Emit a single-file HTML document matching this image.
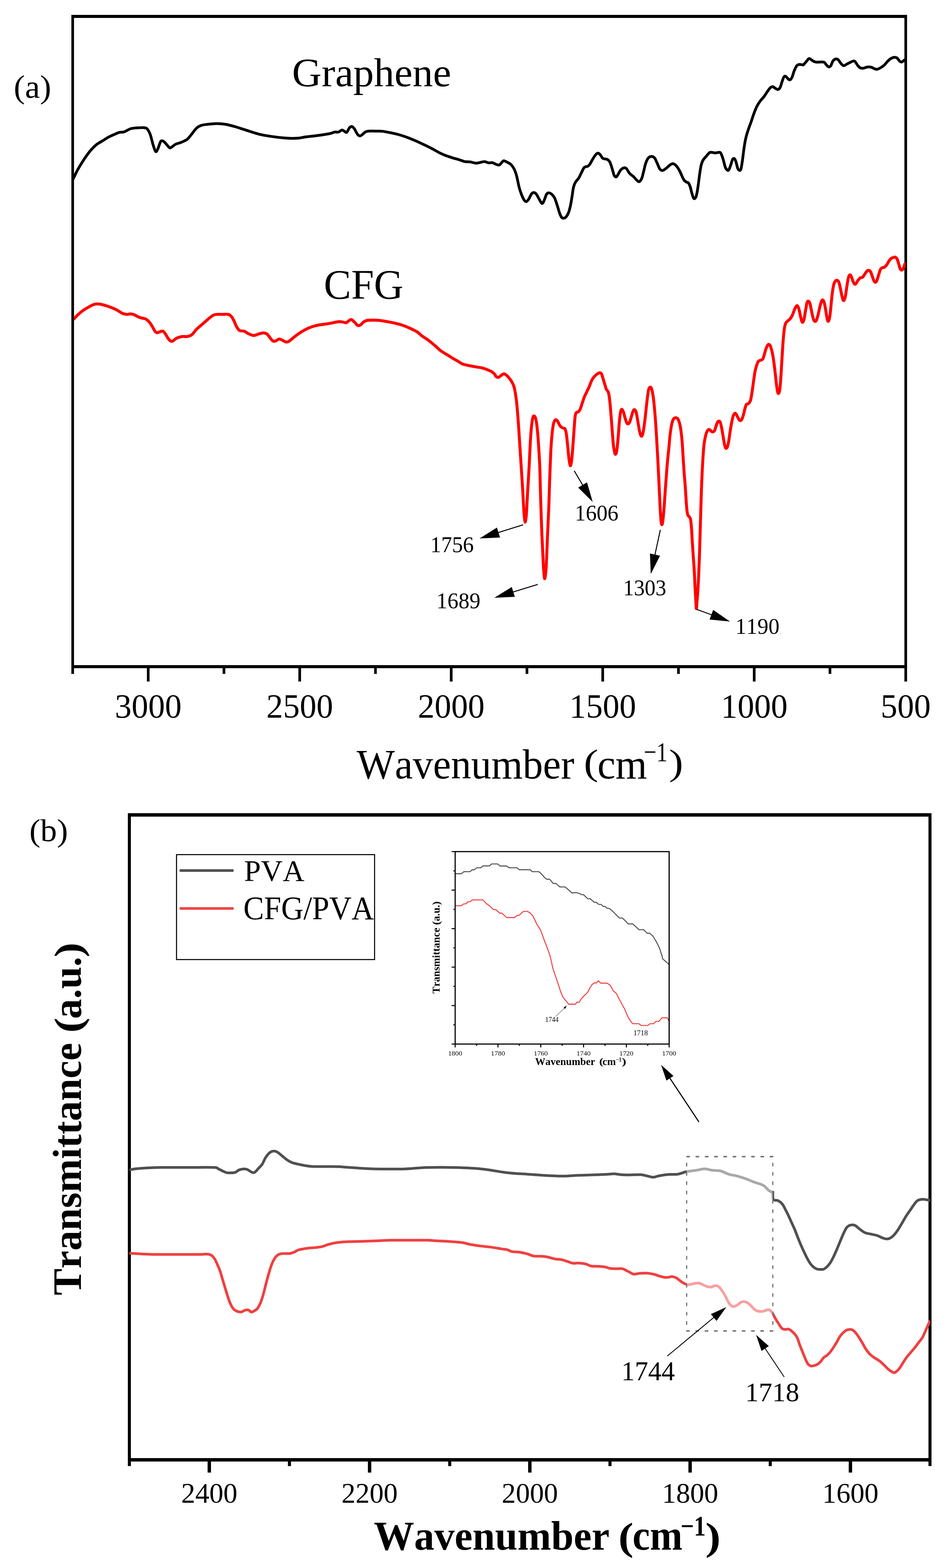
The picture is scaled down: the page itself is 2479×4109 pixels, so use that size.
<!DOCTYPE html>
<html lang="en">
<head>
<meta charset="utf-8">
<title>FTIR spectra</title>
<style>
html,body{margin:0;padding:0;background:#fff;}
body{width:2479px;height:4109px;overflow:hidden;}
svg{display:block;}
text{font-family:"Liberation Serif","DejaVu Serif",serif;fill:#000;font-kerning:none;white-space:pre;}
.b{font-weight:bold;}
</style>
</head>
<body>
<svg width="2479" height="4109" viewBox="0 0 2479 4109">
<rect width="2479" height="4109" fill="#fff"/>

<g id="chart-a">
<g fill="#000">
<rect x="187" y="39" width="7" height="1727"/>
<rect x="187" y="39" width="2190" height="8"/>
<rect x="2370" y="39" width="7" height="1747"/>
<rect x="187" y="1743" width="2190" height="8"/>
<rect x="384.9" y="1747" width="7" height="39"/>
<rect x="583.4" y="1747" width="7" height="19"/>
<rect x="781.9" y="1747" width="7" height="39"/>
<rect x="980.4" y="1747" width="7" height="19"/>
<rect x="1178.9" y="1747" width="7" height="39"/>
<rect x="1377.4" y="1747" width="7" height="19"/>
<rect x="1575.9" y="1747" width="7" height="39"/>
<rect x="1774.4" y="1747" width="7" height="19"/>
<rect x="1972.9" y="1747" width="7" height="39"/>
<rect x="2171.4" y="1747" width="7" height="19"/>
</g>
<clipPath id="clipA"><rect x="194" y="43" width="2179.6" height="1704"/></clipPath>
<g clip-path="url(#clipA)" fill="none" stroke-linejoin="round" stroke-linecap="round">
<path d="M186.0,478.0 C187.0,476.3 189.1,473.6 192.1,467.9 C195.1,462.2 199.5,452.1 204.2,443.7 C208.9,435.3 215.0,425.5 220.3,417.5 C225.7,409.4 231.1,401.6 236.5,395.3 C241.9,388.9 247.2,383.5 252.6,379.1 C258.0,374.7 263.4,372.4 268.8,369.0 C274.1,365.7 279.5,361.8 284.9,358.9 C290.3,356.1 296.3,353.7 301.0,351.7 C305.8,349.7 309.1,347.8 313.2,346.8 C317.2,345.8 320.6,347.2 325.3,345.6 C330.0,344.1 336.0,339.3 341.4,337.6 C346.8,335.8 351.5,335.6 357.5,335.1 C363.6,334.7 373.0,334.3 377.7,334.7 C382.4,335.2 383.1,334.9 385.8,338.0 C388.5,341.0 391.3,346.0 393.9,352.9 C396.4,359.8 398.8,371.7 401.1,379.1 C403.5,386.5 405.8,395.6 408.0,397.3 C410.1,399.0 411.9,393.6 414.0,389.2 C416.2,384.8 418.7,374.3 420.9,371.0 C423.0,367.8 424.7,368.6 426.9,369.4 C429.2,370.2 431.3,372.9 434.2,375.9 C437.1,378.9 441.6,385.6 444.3,387.2 C447.0,388.7 447.7,386.7 450.3,385.2 C453.0,383.6 456.4,379.9 460.4,377.9 C464.5,375.9 469.5,375.2 474.6,373.1 C479.6,370.9 486.0,368.7 490.7,365.0 C495.4,361.3 498.8,355.7 502.8,350.9 C506.8,346.0 510.9,339.6 514.9,335.9 C518.9,332.2 522.3,330.4 527.0,328.7 C531.7,327.0 536.4,326.7 543.1,325.9 C549.9,325.1 559.3,323.8 567.4,323.8 C575.4,323.8 583.5,324.5 591.6,325.9 C599.6,327.2 607.0,329.4 615.8,331.9 C624.5,334.4 633.9,337.6 644.0,340.8 C654.1,343.9 664.9,348.0 676.3,350.9 C687.7,353.7 699.8,355.9 712.6,357.7 C725.4,359.6 741.7,361.4 753.0,362.2 C764.2,362.9 772.3,362.7 780.2,362.2 C788.1,361.6 793.0,360.0 800.3,358.9 C807.7,357.9 815.8,357.3 824.6,356.1 C833.3,355.0 845.4,353.3 852.8,352.1 C860.2,350.9 864.9,349.9 868.9,348.9 C873.0,347.8 874.0,346.5 877.0,346.0 C880.0,345.6 883.9,346.9 887.1,346.0 C890.3,345.2 893.5,341.2 896.0,340.8 C898.5,340.4 899.9,342.6 902.0,343.6 C904.1,344.6 906.3,348.2 908.5,346.8 C910.7,345.5 913.1,338.1 915.3,335.5 C917.6,333.0 920.0,331.2 922.2,331.5 C924.4,331.8 926.2,334.2 928.7,337.6 C931.1,340.9 934.2,348.6 936.7,351.7 C939.2,354.8 941.3,356.1 943.6,356.1 C945.9,356.1 948.1,353.4 950.5,351.7 C952.8,349.9 955.2,347.0 957.7,345.6 C960.3,344.3 961.1,343.9 965.8,343.6 C970.5,343.3 979.9,343.5 986.0,343.6 C992.0,343.7 996.0,343.3 1002.1,344.0 C1008.2,344.7 1015.5,346.3 1022.3,347.6 C1029.0,349.0 1035.1,350.1 1042.4,352.1 C1049.8,354.1 1058.6,356.8 1066.7,359.8 C1074.7,362.7 1082.8,366.3 1090.9,369.8 C1098.9,373.4 1107.7,377.6 1115.1,381.1 C1122.5,384.7 1128.9,387.9 1135.3,391.2 C1141.6,394.6 1148.0,398.6 1153.4,401.3 C1158.8,404.0 1161.8,405.2 1167.5,407.4 C1173.2,409.5 1181.7,412.3 1187.7,414.2 C1193.8,416.1 1198.8,417.1 1203.8,418.7 C1208.9,420.2 1213.3,422.6 1218.0,423.5 C1222.7,424.4 1227.4,423.6 1232.1,424.3 C1236.8,425.0 1242.2,427.2 1246.2,427.5 C1250.2,427.9 1252.5,427.0 1256.3,426.3 C1260.1,425.7 1265.2,423.4 1269.2,423.5 C1273.2,423.6 1276.9,426.3 1280.5,426.7 C1284.1,427.2 1287.4,425.7 1290.6,426.3 C1293.8,427.0 1297.0,429.7 1300.0,430.7 C1303.0,431.7 1305.9,433.2 1308.4,432.4 C1310.9,431.5 1313.2,427.5 1315.1,425.7 C1317.1,423.8 1317.7,421.3 1320.2,421.3 C1322.7,421.3 1327.2,424.1 1330.3,425.7 C1333.3,427.2 1335.9,427.9 1338.7,430.7 C1341.5,433.5 1344.6,437.4 1347.1,442.5 C1349.6,447.5 1351.6,452.8 1353.8,461.0 C1356.0,469.1 1358.3,482.8 1360.5,491.2 C1362.8,499.6 1365.0,505.8 1367.2,511.4 C1369.5,517.0 1371.9,522.0 1374.0,524.8 C1376.0,527.7 1377.7,528.8 1379.7,528.2 C1381.7,527.7 1383.6,524.7 1385.7,521.5 C1387.9,518.2 1390.4,511.5 1392.5,508.7 C1394.5,505.9 1396.1,504.8 1398.2,504.7 C1400.3,504.6 1402.5,505.2 1404.9,508.0 C1407.3,510.8 1410.1,517.3 1412.6,521.5 C1415.2,525.7 1418.1,532.7 1420.4,533.3 C1422.6,533.8 1424.2,528.8 1426.1,524.8 C1428.0,520.9 1430.0,513.0 1431.8,509.7 C1433.7,506.5 1435.1,505.6 1437.2,505.3 C1439.3,505.1 1442.0,505.9 1444.6,508.0 C1447.2,510.2 1450.5,513.4 1453.0,518.1 C1455.5,522.9 1457.5,529.9 1459.7,536.6 C1462.0,543.3 1464.5,553.0 1466.4,558.5 C1468.4,563.9 1469.8,567.0 1471.5,569.2 C1473.2,571.5 1474.6,572.0 1476.5,571.9 C1478.5,571.8 1481.0,571.1 1483.3,568.6 C1485.5,566.0 1488.0,561.8 1490.0,556.8 C1491.9,551.7 1493.5,545.3 1495.0,538.3 C1496.5,531.3 1497.8,522.6 1499.1,514.8 C1500.3,506.9 1501.3,497.4 1502.8,491.2 C1504.2,485.1 1505.4,482.0 1507.8,477.8 C1510.2,473.6 1514.0,470.8 1516.9,466.0 C1519.8,461.2 1522.9,453.8 1525.3,449.2 C1527.7,444.6 1528.8,440.7 1531.3,438.4 C1533.9,436.2 1538.1,437.0 1540.4,435.7 C1542.8,434.5 1543.5,433.5 1545.5,430.7 C1547.4,427.9 1549.8,422.9 1552.2,418.9 C1554.5,415.0 1557.2,410.1 1559.6,407.2 C1562.0,404.2 1564.4,401.7 1566.6,401.4 C1568.9,401.2 1571.0,403.3 1573.0,405.5 C1575.1,407.7 1577.0,412.7 1579.1,414.6 C1581.2,416.4 1583.6,416.0 1585.8,416.6 C1588.1,417.2 1590.4,416.7 1592.5,418.3 C1594.7,419.8 1596.6,421.6 1598.6,425.7 C1600.5,429.7 1602.5,436.9 1604.3,442.5 C1606.1,448.1 1607.7,455.7 1609.3,459.3 C1611.0,462.8 1612.7,463.9 1614.4,463.7 C1616.1,463.4 1617.5,460.6 1619.4,457.6 C1621.4,454.6 1623.6,448.7 1626.2,445.8 C1628.7,442.9 1632.0,440.8 1634.6,440.1 C1637.1,439.4 1638.8,439.1 1641.3,441.5 C1643.8,443.8 1646.6,450.7 1649.7,454.2 C1652.8,457.8 1656.7,459.7 1659.8,462.6 C1662.9,465.6 1665.7,469.5 1668.2,471.7 C1670.7,474.0 1672.7,476.8 1674.9,476.1 C1677.2,475.4 1679.7,472.2 1681.6,467.7 C1683.6,463.2 1685.0,455.6 1686.7,449.2 C1688.4,442.7 1689.8,434.8 1691.7,429.0 C1693.7,423.2 1695.9,417.8 1698.5,414.6 C1701.0,411.4 1704.1,410.0 1706.9,409.9 C1709.7,409.7 1712.7,411.0 1715.3,413.9 C1717.8,416.8 1719.7,422.6 1722.0,427.3 C1724.2,432.1 1726.5,439.2 1728.7,442.5 C1731.0,445.7 1732.9,446.8 1735.4,446.8 C1738.0,446.8 1740.5,444.9 1743.8,442.5 C1747.2,440.1 1752.3,434.6 1755.6,432.4 C1759.0,430.1 1761.2,428.6 1764.0,429.0 C1766.8,429.4 1769.6,431.7 1772.4,434.7 C1775.2,437.8 1778.0,442.3 1780.8,447.5 C1783.6,452.7 1787.2,461.8 1789.2,466.0 C1791.3,470.2 1791.5,470.7 1793.0,472.6 C1794.6,474.4 1797.0,476.1 1798.8,477.3 C1800.5,478.4 1802.1,477.2 1803.8,479.3 C1805.5,481.4 1807.3,485.5 1808.8,490.0 C1810.4,494.6 1811.8,502.1 1813.2,506.9 C1814.6,511.6 1816.0,516.4 1817.2,518.6 C1818.5,520.9 1819.4,521.1 1820.6,520.3 C1821.8,519.5 1823.2,518.6 1824.6,513.6 C1826.0,508.5 1827.6,499.6 1829.0,490.0 C1830.5,480.5 1832.0,465.9 1833.4,456.4 C1834.8,446.9 1835.9,439.0 1837.4,432.9 C1838.9,426.7 1840.2,423.4 1842.5,419.4 C1844.7,415.5 1848.1,412.6 1850.9,409.3 C1853.7,406.1 1856.8,401.6 1859.3,399.9 C1861.8,398.3 1863.5,399.1 1866.0,399.3 C1868.5,399.4 1871.6,400.9 1874.4,400.9 C1877.2,400.9 1880.5,399.3 1882.8,399.3 C1885.2,399.3 1886.6,398.1 1888.5,400.9 C1890.5,403.7 1892.6,409.9 1894.6,416.1 C1896.6,422.2 1898.8,433.1 1900.6,437.9 C1902.4,442.8 1903.8,444.1 1905.3,445.3 C1906.9,446.6 1908.1,447.4 1909.7,445.3 C1911.3,443.3 1913.1,437.5 1914.8,432.9 C1916.4,428.3 1918.2,420.7 1919.8,417.8 C1921.4,414.8 1922.8,414.6 1924.2,415.4 C1925.6,416.2 1926.7,418.5 1928.2,422.8 C1929.7,427.1 1931.7,437.4 1933.3,441.3 C1934.8,445.2 1936.2,446.1 1937.6,446.3 C1939.0,446.6 1940.3,447.5 1941.7,443.0 C1943.0,438.5 1944.3,429.0 1945.7,419.4 C1947.1,409.9 1948.5,395.9 1950.1,385.8 C1951.6,375.7 1953.1,367.0 1955.1,358.9 C1957.1,350.8 1959.6,343.8 1961.8,337.1 C1964.1,330.3 1966.3,325.0 1968.6,318.6 C1970.8,312.1 1972.8,305.1 1975.3,298.4 C1977.8,291.7 1980.9,283.8 1983.7,278.2 C1986.5,272.6 1989.0,269.0 1992.1,264.8 C1995.2,260.6 1998.8,257.5 2002.2,253.0 C2005.5,248.5 2009.5,241.8 2012.3,237.9 C2015.1,233.9 2016.9,231.2 2019.0,229.5 C2021.1,227.7 2022.8,226.7 2025.1,227.1 C2027.3,227.5 2030.2,230.6 2032.4,231.8 C2034.7,233.0 2036.5,234.9 2038.5,234.5 C2040.5,234.1 2042.4,232.8 2044.2,229.5 C2046.0,226.1 2047.6,219.0 2049.3,214.3 C2050.9,209.7 2052.6,203.9 2054.3,201.5 C2056.0,199.2 2057.5,199.3 2059.3,200.2 C2061.2,201.1 2063.6,205.4 2065.4,206.9 C2067.2,208.4 2068.4,210.0 2070.1,209.3 C2071.8,208.6 2073.6,206.5 2075.5,202.6 C2077.3,198.6 2079.1,190.8 2081.2,185.7 C2083.3,180.7 2085.7,175.1 2087.9,172.3 C2090.2,169.5 2092.1,169.3 2094.7,168.9 C2097.2,168.5 2101.2,169.8 2103.1,169.9 C2104.9,170.0 2104.1,171.1 2105.9,169.5 C2107.7,167.8 2111.5,162.7 2114.0,160.1 C2116.4,157.4 2118.2,153.6 2120.7,153.3 C2123.2,153.1 2125.9,157.1 2128.8,158.7 C2131.7,160.3 2133.2,162.1 2138.2,162.7 C2143.1,163.4 2153.9,161.6 2158.4,162.7 C2162.8,163.9 2162.8,167.4 2165.1,169.5 C2167.3,171.6 2169.8,174.9 2171.8,175.4 C2173.8,175.8 2175.4,174.7 2177.2,172.2 C2179.0,169.6 2180.5,163.0 2182.6,160.1 C2184.6,157.1 2187.0,155.3 2189.3,154.7 C2191.5,154.0 2193.5,154.0 2196.0,156.0 C2198.5,158.0 2201.6,164.1 2204.1,166.8 C2206.5,169.5 2208.3,171.9 2210.8,172.2 C2213.3,172.4 2215.7,169.7 2218.9,168.1 C2222.0,166.6 2226.3,164.1 2229.6,162.7 C2233.0,161.4 2236.1,158.7 2239.1,160.1 C2242.0,161.4 2244.7,167.9 2247.1,170.8 C2249.6,173.7 2251.4,176.2 2253.8,177.5 C2256.3,178.9 2258.8,179.2 2261.9,178.9 C2265.1,178.6 2269.1,176.1 2272.7,175.7 C2276.3,175.2 2280.3,175.4 2283.4,176.2 C2286.6,177.0 2289.0,179.3 2291.5,180.2 C2294.0,181.1 2295.5,182.0 2298.2,181.6 C2300.9,181.1 2304.5,179.3 2307.6,177.5 C2310.8,175.7 2313.9,173.7 2317.1,170.8 C2320.2,167.9 2323.6,163.0 2326.5,160.1 C2329.4,157.1 2331.6,155.0 2334.5,153.3 C2337.5,151.7 2341.3,150.3 2344.0,150.1 C2346.7,149.9 2348.4,150.3 2350.7,152.0 C2352.9,153.6 2355.6,158.3 2357.4,160.1 C2359.2,161.8 2359.9,162.7 2361.4,162.7 C2363.0,162.7 2365.4,161.0 2366.8,160.1 C2368.3,159.2 2368.3,158.5 2370.1,157.4 C2371.8,156.2 2376.3,154.0 2377.6,153.3" stroke="#000" stroke-width="7.2"/>
<path d="M186.0,841.3 C187.3,840.3 191.1,838.0 194.1,835.2 C197.1,832.4 200.5,828.1 204.2,824.6 C207.9,821.2 211.6,817.9 216.3,814.6 C221.0,811.2 227.7,807.2 232.5,804.5 C237.2,801.8 240.9,799.8 244.6,798.4 C248.3,797.1 250.6,796.4 254.6,796.4 C258.7,796.4 263.7,797.3 268.8,798.4 C273.8,799.6 279.5,801.4 284.9,803.3 C290.3,805.1 296.3,807.5 301.0,809.7 C305.8,811.9 309.8,814.6 313.2,816.6 C316.5,818.5 318.0,820.2 321.2,821.4 C324.5,822.6 329.2,823.6 332.5,823.8 C335.9,824.0 338.2,822.5 341.4,822.6 C344.6,822.8 348.1,823.4 351.5,824.6 C354.8,825.9 358.2,828.4 361.6,829.9 C364.9,831.4 368.3,832.5 371.7,833.5 C375.0,834.5 378.4,834.1 381.7,835.9 C385.1,837.8 388.8,841.3 391.8,844.8 C394.9,848.3 397.6,853.1 399.9,856.9 C402.3,860.8 403.9,865.3 406.0,867.8 C408.0,870.3 409.7,871.7 412.0,871.9 C414.4,872.1 417.6,869.7 420.1,869.0 C422.6,868.4 424.7,866.8 426.9,867.8 C429.2,868.8 431.2,872.0 433.4,875.1 C435.6,878.2 438.1,883.4 440.3,886.4 C442.4,889.4 444.3,892.0 446.3,893.2 C448.3,894.5 449.7,895.2 452.4,894.0 C455.1,892.9 458.4,888.4 462.4,886.4 C466.5,884.4 471.9,882.7 476.6,881.9 C481.3,881.2 486.3,882.8 490.7,881.9 C495.1,881.1 498.8,880.3 502.8,877.1 C506.8,873.9 510.2,867.7 514.9,863.0 C519.6,858.3 525.7,853.6 531.0,848.9 C536.4,844.1 542.5,838.6 547.2,834.7 C551.9,830.9 555.6,827.7 559.3,825.9 C563.0,824.0 565.3,824.2 569.4,823.8 C573.4,823.5 578.8,823.8 583.5,823.8 C588.2,823.8 593.9,823.0 597.6,823.8 C601.3,824.6 603.2,826.1 605.7,828.7 C608.2,831.3 610.2,835.1 612.5,839.6 C614.9,844.1 617.3,851.3 619.8,855.7 C622.4,860.2 624.5,864.2 627.9,866.2 C631.2,868.2 636.3,866.5 640.0,867.8 C643.7,869.1 646.0,872.0 650.1,873.9 C654.1,875.8 659.5,878.9 664.2,879.1 C668.9,879.3 673.9,876.2 678.3,875.1 C682.7,873.9 686.7,872.1 690.4,872.3 C694.1,872.4 697.5,873.5 700.5,875.9 C703.5,878.2 706.0,883.4 708.6,886.4 C711.1,889.4 713.5,892.9 715.8,894.0 C718.2,895.2 720.0,894.2 722.7,893.2 C725.4,892.3 729.0,888.6 732.0,888.4 C735.0,888.2 738.0,890.8 740.9,892.0 C743.7,893.3 746.2,895.7 748.9,896.1 C751.6,896.5 752.5,897.3 757.0,894.5 C761.5,891.6 770.3,883.5 776.1,879.1 C782.0,874.7 786.9,871.5 792.3,868.2 C797.7,865.0 803.0,862.1 808.4,859.8 C813.8,857.4 819.2,855.6 824.6,854.1 C829.9,852.6 834.6,851.9 840.7,850.9 C846.8,849.9 854.8,849.1 860.9,848.0 C866.9,847.0 872.3,845.7 877.0,844.8 C881.7,843.9 885.4,842.9 889.1,842.8 C892.8,842.7 896.2,843.5 899.2,844.0 C902.2,844.5 904.6,846.4 907.3,845.6 C910.0,844.9 913.0,840.9 915.3,839.6 C917.7,838.2 919.0,836.7 921.4,837.6 C923.8,838.4 926.8,842.3 929.5,844.8 C932.2,847.4 935.0,851.7 937.5,852.9 C940.1,854.0 942.2,853.2 944.8,851.7 C947.4,850.1 950.0,845.6 952.9,843.6 C955.7,841.6 957.6,840.4 961.7,839.6 C965.9,838.8 972.5,838.8 977.9,838.8 C983.3,838.8 988.0,838.9 994.0,839.6 C1000.1,840.2 1007.5,841.6 1014.2,842.8 C1020.9,844.0 1028.3,845.5 1034.4,846.8 C1040.4,848.2 1045.1,849.2 1050.5,850.9 C1055.9,852.6 1061.3,854.7 1066.7,856.9 C1072.0,859.1 1078.1,861.8 1082.8,864.2 C1087.5,866.5 1090.9,868.2 1094.9,871.0 C1098.9,873.9 1102.3,877.6 1107.0,881.1 C1111.7,884.6 1117.8,888.0 1123.1,892.0 C1128.5,896.1 1133.9,900.8 1139.3,905.3 C1144.7,909.9 1150.0,915.4 1155.4,919.5 C1160.8,923.5 1166.2,926.2 1171.6,929.6 C1176.9,932.9 1183.0,936.8 1187.7,939.6 C1192.4,942.5 1195.8,944.1 1199.8,946.5 C1203.8,948.9 1207.9,952.0 1211.9,953.8 C1216.0,955.5 1218.6,955.8 1224.0,957.0 C1229.4,958.2 1237.8,959.9 1244.2,961.0 C1250.6,962.2 1257.0,962.6 1262.4,963.9 C1267.7,965.1 1272.1,967.0 1276.5,968.7 C1280.8,970.4 1285.2,971.9 1288.6,973.9 C1291.9,976.0 1294.7,979.0 1296.7,981.2 C1298.6,983.4 1298.3,985.7 1300.0,987.0 C1301.7,988.2 1304.5,989.2 1306.7,988.7 C1309.0,988.1 1311.2,985.1 1313.4,983.6 C1315.7,982.1 1317.9,979.7 1320.2,979.6 C1322.4,979.5 1324.4,980.9 1326.9,983.0 C1329.4,985.0 1332.8,988.8 1335.3,992.0 C1337.8,995.2 1340.1,998.5 1342.0,1002.1 C1344.0,1005.8 1345.6,1008.6 1347.1,1013.9 C1348.6,1019.2 1349.9,1026.2 1351.1,1034.1 C1352.3,1041.9 1353.4,1049.8 1354.5,1061.0 C1355.6,1072.2 1356.7,1086.2 1357.8,1101.3 C1359.0,1116.4 1359.9,1132.1 1361.2,1151.7 C1362.5,1171.4 1364.1,1196.6 1365.6,1219.0 C1367.0,1241.4 1368.8,1266.6 1369.9,1286.2 C1371.1,1305.9 1371.9,1324.6 1372.6,1336.7 C1373.4,1348.7 1373.9,1353.3 1374.5,1358.5 C1375.1,1363.8 1375.7,1368.3 1376.3,1368.3 C1376.9,1368.3 1377.6,1362.7 1378.2,1358.5 C1378.7,1354.4 1379.0,1354.3 1379.7,1343.4 C1380.4,1332.5 1381.2,1313.7 1382.4,1293.0 C1383.6,1272.2 1385.5,1242.5 1386.8,1219.0 C1388.0,1195.5 1389.0,1169.7 1390.1,1151.7 C1391.2,1133.8 1392.4,1121.2 1393.5,1111.4 C1394.6,1101.6 1395.8,1096.4 1396.8,1092.9 C1397.9,1089.4 1398.7,1089.7 1399.9,1090.2 C1401.0,1090.8 1402.4,1092.2 1403.6,1096.3 C1404.7,1100.4 1405.8,1105.5 1406.9,1114.8 C1408.0,1124.0 1409.1,1134.4 1410.3,1151.7 C1411.5,1169.1 1413.3,1196.6 1414.3,1219.0 C1415.3,1241.4 1415.6,1267.8 1416.2,1286.2 C1416.7,1304.7 1416.9,1311.9 1417.5,1330.0 C1418.1,1348.0 1418.9,1373.0 1419.8,1394.5 C1420.7,1416.0 1422.0,1442.9 1422.8,1459.1 C1423.6,1475.2 1423.7,1481.8 1424.5,1491.4 C1425.3,1500.9 1426.3,1516.6 1427.4,1516.6 C1428.5,1516.6 1430.1,1500.9 1430.9,1491.4 C1431.7,1481.8 1431.8,1475.2 1432.5,1459.1 C1433.2,1442.9 1434.3,1416.0 1435.2,1394.5 C1436.1,1373.0 1437.2,1353.6 1438.1,1330.0 C1439.0,1306.3 1439.7,1276.7 1440.6,1252.6 C1441.4,1228.5 1442.3,1203.9 1443.2,1185.4 C1444.2,1166.9 1445.2,1153.4 1446.3,1141.7 C1447.3,1129.9 1448.5,1121.2 1449.6,1114.8 C1450.8,1108.3 1451.7,1105.4 1453.0,1103.0 C1454.3,1100.6 1455.9,1099.9 1457.4,1100.3 C1458.9,1100.7 1460.6,1103.0 1462.1,1105.3 C1463.6,1107.6 1464.9,1111.7 1466.4,1114.1 C1468.0,1116.5 1469.8,1118.5 1471.5,1119.8 C1473.2,1121.1 1475.0,1121.4 1476.5,1122.2 C1478.1,1122.9 1479.6,1121.5 1480.9,1124.2 C1482.2,1126.9 1483.1,1130.9 1484.3,1138.3 C1485.4,1145.7 1486.5,1157.9 1487.6,1168.6 C1488.7,1179.2 1489.9,1193.6 1491.0,1202.2 C1492.1,1210.8 1493.2,1219.2 1494.4,1220.3 C1495.5,1221.5 1496.6,1217.0 1497.7,1208.9 C1498.8,1200.8 1500.0,1185.9 1501.1,1171.9 C1502.2,1157.9 1503.4,1138.3 1504.4,1124.8 C1505.4,1111.4 1506.2,1098.5 1507.1,1091.2 C1508.1,1083.9 1508.8,1083.1 1510.2,1081.1 C1511.5,1079.2 1513.5,1080.9 1515.2,1079.5 C1516.9,1078.1 1518.6,1076.4 1520.2,1072.7 C1521.9,1069.1 1523.4,1063.0 1525.3,1057.6 C1527.1,1052.2 1529.4,1045.0 1531.3,1040.1 C1533.3,1035.2 1535.0,1032.4 1537.1,1028.0 C1539.1,1023.6 1541.5,1019.0 1543.8,1013.9 C1546.0,1008.7 1548.3,1001.6 1550.5,997.1 C1552.7,992.6 1554.7,989.9 1557.2,987.0 C1559.8,984.1 1563.1,981.3 1565.6,979.6 C1568.2,977.9 1570.6,976.8 1572.4,976.9 C1574.2,977.0 1575.0,977.5 1576.4,980.3 C1577.8,983.1 1579.2,988.7 1580.8,993.7 C1582.3,998.8 1584.4,1006.0 1585.8,1010.5 C1587.2,1015.0 1587.8,1017.7 1589.2,1020.6 C1590.6,1023.5 1592.8,1023.5 1594.2,1028.0 C1595.6,1032.5 1596.5,1038.1 1597.6,1047.5 C1598.7,1056.9 1599.8,1071.0 1600.9,1084.5 C1602.1,1097.9 1603.2,1114.2 1604.3,1128.2 C1605.4,1142.2 1606.5,1158.8 1607.7,1168.6 C1608.8,1178.4 1610.1,1183.4 1611.0,1187.1 C1612.0,1190.7 1612.5,1191.3 1613.4,1190.4 C1614.2,1189.6 1615.1,1188.5 1616.1,1182.0 C1617.1,1175.6 1618.3,1164.1 1619.4,1151.7 C1620.6,1139.4 1621.7,1120.1 1622.8,1108.0 C1623.9,1096.0 1625.0,1085.3 1626.2,1079.5 C1627.3,1073.6 1628.3,1072.7 1629.5,1072.7 C1630.8,1072.7 1632.2,1075.8 1633.6,1079.5 C1635.0,1083.1 1636.5,1089.8 1637.9,1094.6 C1639.4,1099.3 1640.9,1105.3 1642.3,1108.0 C1643.7,1110.7 1645.0,1111.2 1646.3,1110.7 C1647.7,1110.3 1649.0,1108.6 1650.4,1105.3 C1651.8,1102.1 1653.3,1095.9 1654.7,1091.2 C1656.2,1086.5 1657.7,1080.0 1659.1,1077.1 C1660.5,1074.2 1661.8,1073.1 1663.1,1073.7 C1664.5,1074.4 1665.8,1076.0 1667.2,1081.1 C1668.6,1086.3 1670.1,1096.5 1671.6,1104.7 C1673.0,1112.8 1674.5,1123.6 1675.9,1129.9 C1677.3,1136.2 1678.7,1140.7 1680.0,1142.3 C1681.2,1144.0 1682.2,1142.9 1683.3,1140.0 C1684.4,1137.1 1685.5,1132.4 1686.7,1124.8 C1687.9,1117.3 1689.3,1106.4 1690.7,1094.6 C1692.1,1082.8 1693.6,1066.3 1695.1,1054.2 C1696.5,1042.2 1698.1,1028.9 1699.5,1022.3 C1700.9,1015.7 1702.2,1015.1 1703.5,1014.6 C1704.8,1014.0 1706.1,1014.6 1707.5,1018.9 C1708.9,1023.3 1710.4,1029.9 1711.9,1040.8 C1713.4,1051.7 1714.9,1067.7 1716.3,1084.5 C1717.7,1101.3 1719.1,1122.0 1720.3,1141.7 C1721.5,1161.3 1722.6,1180.9 1723.7,1202.2 C1724.8,1223.5 1726.0,1248.7 1727.0,1269.4 C1728.0,1290.2 1728.9,1310.9 1729.7,1326.6 C1730.6,1342.3 1731.3,1355.5 1732.1,1363.6 C1732.9,1371.7 1733.6,1375.0 1734.4,1375.0 C1735.3,1375.0 1736.1,1371.7 1737.1,1363.6 C1738.1,1355.5 1739.3,1342.3 1740.5,1326.6 C1741.7,1310.9 1743.1,1288.5 1744.5,1269.4 C1745.9,1250.4 1747.5,1228.0 1748.9,1212.3 C1750.3,1196.5 1751.5,1186.9 1752.7,1174.8 C1753.9,1162.8 1754.8,1149.7 1755.9,1139.9 C1757.0,1130.0 1758.2,1122.2 1759.4,1115.7 C1760.7,1109.2 1762.1,1104.2 1763.4,1100.9 C1764.8,1097.5 1766.1,1096.5 1767.5,1095.5 C1768.8,1094.5 1770.2,1094.5 1771.5,1094.7 C1772.9,1094.9 1774.3,1095.4 1775.6,1096.8 C1776.8,1098.3 1777.9,1100.4 1779.1,1103.6 C1780.2,1106.7 1781.2,1110.1 1782.3,1115.7 C1783.4,1121.3 1784.5,1128.7 1785.5,1137.2 C1786.5,1145.7 1787.4,1156.0 1788.2,1166.8 C1789.0,1177.5 1789.5,1189.2 1790.3,1201.7 C1791.2,1214.3 1792.1,1230.0 1793.0,1242.1 C1793.9,1254.2 1794.9,1263.2 1795.7,1274.4 C1796.5,1285.6 1797.2,1299.0 1797.9,1309.3 C1798.6,1319.7 1799.3,1329.5 1800.0,1336.2 C1800.8,1343.0 1801.4,1346.6 1802.5,1349.7 C1803.5,1352.7 1805.3,1352.5 1806.5,1354.5 C1807.7,1356.6 1808.8,1357.2 1809.7,1361.8 C1810.6,1366.4 1811.2,1372.8 1811.9,1382.0 C1812.6,1391.2 1813.2,1404.4 1814.0,1416.9 C1814.8,1429.5 1815.8,1443.8 1816.7,1457.3 C1817.6,1470.7 1818.6,1484.2 1819.4,1497.6 C1820.2,1511.1 1820.7,1525.9 1821.3,1538.0 C1821.9,1550.1 1822.6,1560.8 1823.2,1570.3 C1823.8,1579.8 1824.2,1593.7 1824.8,1595.0 C1825.3,1596.4 1825.8,1585.6 1826.4,1578.3 C1827.0,1571.1 1827.8,1562.7 1828.5,1551.4 C1829.3,1540.2 1830.0,1526.8 1830.7,1511.1 C1831.4,1495.4 1832.2,1475.2 1832.9,1457.3 C1833.5,1439.4 1833.9,1421.4 1834.5,1403.5 C1835.0,1385.6 1835.5,1367.6 1836.1,1349.7 C1836.6,1331.8 1837.1,1313.8 1837.7,1295.9 C1838.3,1278.0 1839.1,1257.8 1839.8,1242.1 C1840.6,1226.4 1841.2,1214.3 1842.0,1201.7 C1842.8,1189.2 1843.7,1176.2 1844.7,1166.8 C1845.7,1157.4 1846.9,1151.1 1848.2,1145.3 C1849.4,1139.4 1850.9,1135.0 1852.2,1131.8 C1853.6,1128.6 1854.9,1126.8 1856.3,1125.9 C1857.6,1125.0 1858.9,1125.7 1860.3,1126.4 C1861.6,1127.2 1863.0,1129.6 1864.3,1130.5 C1865.7,1131.4 1867.0,1132.1 1868.4,1131.8 C1869.7,1131.5 1871.1,1130.8 1872.4,1128.6 C1873.6,1126.3 1874.7,1121.9 1875.9,1118.4 C1877.1,1114.9 1878.4,1110.1 1879.7,1107.6 C1881.0,1105.1 1882.4,1103.8 1883.7,1103.6 C1884.9,1103.3 1886.1,1103.8 1887.2,1106.3 C1888.3,1108.7 1889.3,1113.2 1890.4,1118.4 C1891.5,1123.5 1892.7,1130.5 1893.9,1137.2 C1895.1,1143.9 1896.3,1152.9 1897.4,1158.7 C1898.5,1164.5 1899.7,1169.5 1900.6,1172.2 C1901.6,1174.8 1902.3,1175.3 1903.3,1174.8 C1904.3,1174.4 1905.4,1173.1 1906.6,1169.5 C1907.7,1165.9 1908.9,1160.1 1910.1,1153.3 C1911.2,1146.6 1912.3,1136.7 1913.6,1129.1 C1914.8,1121.5 1916.0,1114.1 1917.3,1107.6 C1918.6,1101.1 1920.0,1094.1 1921.4,1090.1 C1922.7,1086.1 1924.1,1084.3 1925.4,1083.4 C1926.6,1082.5 1927.6,1083.2 1928.9,1084.7 C1930.1,1086.3 1931.6,1090.2 1932.9,1092.8 C1934.3,1095.4 1935.6,1098.5 1937.0,1100.1 C1938.3,1101.6 1939.6,1102.8 1941.0,1102.2 C1942.3,1101.7 1943.7,1100.0 1945.0,1096.8 C1946.4,1093.7 1947.7,1088.3 1949.1,1083.4 C1950.4,1078.5 1951.8,1071.3 1953.1,1067.2 C1954.3,1063.2 1955.2,1060.7 1956.6,1059.2 C1957.9,1057.6 1959.5,1059.4 1961.2,1057.8 C1962.8,1056.3 1965.1,1054.6 1966.6,1049.7 C1968.2,1044.8 1969.2,1037.1 1970.6,1028.5 C1971.9,1020.0 1973.5,1007.6 1974.8,998.3 C1976.2,988.9 1977.3,979.6 1978.7,972.6 C1980.2,965.5 1981.8,960.3 1983.3,955.9 C1984.8,951.5 1986.1,948.2 1987.8,946.2 C1989.6,944.2 1992.0,944.7 1993.9,943.8 C1995.7,942.9 1997.5,943.3 1999.0,940.8 C2000.5,938.3 2001.5,933.2 2003.0,928.7 C2004.4,924.1 2006.0,917.7 2007.5,913.5 C2009.0,909.4 2010.6,905.6 2012.0,903.9 C2013.4,902.1 2014.7,902.1 2016.0,903.0 C2017.2,903.8 2018.2,905.2 2019.6,909.0 C2021.0,912.8 2022.7,918.8 2024.1,925.6 C2025.6,932.5 2026.8,940.8 2028.1,949.9 C2029.3,958.9 2030.6,970.5 2031.7,980.1 C2032.8,989.7 2033.7,999.5 2034.7,1007.4 C2035.7,1015.2 2036.9,1023.1 2037.8,1027.0 C2038.7,1031.0 2039.3,1031.7 2040.2,1031.0 C2041.1,1030.2 2042.2,1029.4 2043.2,1022.5 C2044.2,1015.5 2045.2,1003.3 2046.2,989.2 C2047.2,975.1 2048.3,953.9 2049.3,937.8 C2050.3,921.6 2051.3,905.0 2052.3,892.4 C2053.3,879.8 2054.2,869.7 2055.3,862.1 C2056.4,854.5 2057.4,850.5 2058.9,847.0 C2060.5,843.4 2062.4,842.9 2064.4,840.9 C2066.4,838.9 2069.0,837.4 2071.0,834.9 C2073.1,832.3 2074.7,829.6 2076.5,825.8 C2078.3,822.0 2080.0,815.9 2081.6,812.2 C2083.3,808.4 2084.8,804.9 2086.2,803.1 C2087.5,801.3 2088.6,800.3 2089.8,801.6 C2091.1,802.8 2092.4,806.1 2093.7,810.7 C2095.1,815.2 2096.4,823.5 2097.7,828.8 C2098.9,834.1 2100.2,839.9 2101.3,842.4 C2102.4,844.9 2103.3,845.2 2104.3,843.9 C2105.3,842.7 2106.3,839.9 2107.4,834.9 C2108.5,829.8 2109.7,820.7 2111.0,813.7 C2112.3,806.6 2113.6,796.5 2114.9,792.5 C2116.2,788.5 2117.6,789.0 2118.9,789.5 C2120.1,790.0 2121.1,791.0 2122.5,795.5 C2123.9,800.1 2125.5,809.9 2127.0,816.7 C2128.5,823.5 2130.1,832.1 2131.6,836.4 C2133.1,840.7 2134.7,842.2 2136.1,842.4 C2137.5,842.7 2138.7,841.2 2140.0,837.9 C2141.4,834.6 2142.8,828.8 2144.3,822.8 C2145.8,816.7 2147.6,807.4 2149.1,801.6 C2150.6,795.8 2152.0,790.4 2153.4,788.0 C2154.7,785.5 2156.0,785.3 2157.3,787.0 C2158.6,788.8 2160.0,793.1 2161.2,798.5 C2162.5,804.0 2163.7,812.9 2164.9,819.7 C2166.1,826.5 2167.4,835.9 2168.5,839.4 C2169.6,842.9 2170.5,842.7 2171.5,840.9 C2172.5,839.1 2173.5,835.4 2174.5,828.8 C2175.6,822.3 2176.6,811.2 2177.6,801.6 C2178.6,792.0 2179.4,780.4 2180.6,771.3 C2181.8,762.2 2183.1,752.9 2184.5,747.1 C2185.9,741.3 2187.4,738.5 2189.1,736.5 C2190.7,734.5 2193.0,734.5 2194.5,735.0 C2196.0,735.5 2196.9,736.5 2198.2,739.5 C2199.4,742.6 2200.5,747.6 2201.8,753.2 C2203.0,758.7 2204.5,767.4 2205.7,772.8 C2206.9,778.3 2208.0,783.6 2209.0,785.8 C2210.1,788.1 2211.0,788.4 2212.1,786.4 C2213.2,784.5 2214.5,780.4 2215.7,774.3 C2216.9,768.3 2218.1,757.7 2219.3,750.1 C2220.5,742.6 2221.7,733.9 2223.0,728.9 C2224.2,724.0 2225.6,721.2 2226.9,720.5 C2228.2,719.7 2229.5,721.7 2230.8,724.4 C2232.2,727.1 2233.7,733.2 2235.1,736.5 C2236.4,739.8 2237.7,742.9 2239.0,744.1 C2240.3,745.2 2241.4,745.0 2242.9,743.5 C2244.5,742.0 2246.2,737.5 2248.1,735.0 C2249.9,732.5 2252.1,729.8 2254.1,728.3 C2256.2,726.9 2258.2,728.2 2260.2,726.5 C2262.2,724.9 2264.4,721.0 2266.2,718.4 C2268.1,715.7 2269.7,712.5 2271.4,710.8 C2273.0,709.1 2274.6,708.1 2276.2,708.4 C2277.9,708.6 2279.8,709.6 2281.4,712.3 C2283.0,715.0 2284.4,720.4 2285.9,724.4 C2287.4,728.4 2289.0,734.0 2290.5,736.5 C2291.9,739.0 2293.1,739.8 2294.4,739.5 C2295.6,739.3 2296.7,738.3 2298.0,735.0 C2299.4,731.7 2301.0,724.7 2302.6,719.9 C2304.1,715.1 2305.6,709.3 2307.1,706.2 C2308.6,703.2 2309.9,702.7 2311.6,701.7 C2313.4,700.7 2315.7,701.5 2317.7,700.2 C2319.7,698.9 2321.7,696.9 2323.7,694.1 C2325.8,691.4 2327.8,686.4 2329.8,683.6 C2331.8,680.7 2333.8,678.4 2335.8,676.9 C2337.9,675.4 2340.1,675.0 2341.9,674.5 C2343.7,674.0 2344.9,673.1 2346.4,673.9 C2347.9,674.6 2349.6,676.1 2351.0,679.0 C2352.4,681.9 2353.5,686.8 2354.9,691.1 C2356.3,695.4 2357.8,702.0 2359.1,704.7 C2360.5,707.5 2361.7,708.2 2363.1,707.8 C2364.5,707.4 2366.2,705.1 2367.6,702.3 C2369.0,699.5 2370.9,693.0 2371.6,691.1" stroke="#f00" stroke-width="7.7"/>
</g>
<text transform="translate(388.40,1880.21) scale(0.9775,1)" font-size="89.48" text-anchor="middle">3000</text>
<text transform="translate(785.40,1880.21) scale(0.9775,1)" font-size="89.48" text-anchor="middle">2500</text>
<text transform="translate(1182.40,1880.21) scale(0.9775,1)" font-size="89.48" text-anchor="middle">2000</text>
<text transform="translate(1579.40,1880.21) scale(0.9775,1)" font-size="89.48" text-anchor="middle">1500</text>
<text transform="translate(1976.40,1880.21) scale(0.9775,1)" font-size="89.48" text-anchor="middle">1000</text>
<text transform="translate(2373.40,1880.21) scale(0.9775,1)" font-size="89.48" text-anchor="middle">500</text>
<text><tspan x="934.80" y="2039.80" font-size="110.40" textLength="570.26" lengthAdjust="spacingAndGlyphs">Wavenumber</tspan><tspan x="1501.19" y="2029.93" font-size="94.44" textLength="66.73" lengthAdjust="spacingAndGlyphs"> (</tspan><tspan x="1565.61" y="2039.51" font-size="109.38" textLength="130.09" lengthAdjust="spacingAndGlyphs">cm</tspan><tspan x="1686.64" y="1995.00" font-size="72.58" textLength="63.01" lengthAdjust="spacingAndGlyphs">−1</tspan><tspan x="1752.95" y="2029.93" font-size="94.44" textLength="37.32" lengthAdjust="spacingAndGlyphs">)</tspan></text>
<text transform="translate(36.04,255.68) scale(1.0375,1)" font-size="85.29">(a)</text>
<text transform="translate(765.21,226.27) scale(1.0168,1)" font-size="105.56">Graphene</text>
<text transform="translate(848.61,782.80) scale(0.9750,1)" font-size="110.04">CFG</text>
<text transform="translate(1127.73,1447.02) scale(0.9726,1)" font-size="58.44">1756</text>
<text transform="translate(1143.87,1593.62) scale(0.9854,1)" font-size="58.37">1689</text>
<text transform="translate(1506.29,1363.62) scale(0.9801,1)" font-size="58.37">1606</text>
<text transform="translate(1633.06,1559.62) scale(0.9671,1)" font-size="58.37">1303</text>
<text transform="translate(1926.94,1660.52) scale(0.9930,1)" font-size="58.22">1190<tspan font-size="12" dx="1.5">.</tspan></text>
<line x1="1370.8" y1="1375.2" x2="1304.3" y2="1396.1" stroke="#000" stroke-width="2.6"/><polygon points="1256.6,1411.1 1302.2,1382.6 1310.3,1408.4" fill="#000"/>
<line x1="1409.2" y1="1531.4" x2="1343.2" y2="1551.8" stroke="#000" stroke-width="2.6"/><polygon points="1295.4,1566.5 1341.1,1538.3 1349.1,1564.1" fill="#000"/>
<line x1="1504.8" y1="1233.9" x2="1527.7" y2="1272.5" stroke="#000" stroke-width="2.6"/><polygon points="1553.2,1315.5 1515.1,1277.7 1538.3,1263.9" fill="#000"/>
<line x1="1730.4" y1="1388.4" x2="1716.0" y2="1455.3" stroke="#000" stroke-width="2.6"/><polygon points="1705.4,1504.2 1703.2,1450.5 1729.6,1456.2" fill="#000"/>
<line x1="1826.0" y1="1597.0" x2="1866.0" y2="1611.6" stroke="#000" stroke-width="2.6"/><polygon points="1913.0,1628.8 1859.5,1623.6 1868.8,1598.3" fill="#000"/>
</g>
<g id="chart-b">
<g fill="#000">
<rect x="335" y="2131" width="8" height="1710.8"/>
<rect x="335" y="2131" width="2106" height="9"/>
<rect x="2433.1" y="2131" width="7.9" height="1710.8"/>
<rect x="335" y="3821" width="2106" height="9"/>
<rect x="544.0" y="3825" width="8.9" height="33.9"/>
<rect x="754.5" y="3825" width="8" height="17"/>
<rect x="964.0" y="3825" width="8.9" height="33.9"/>
<rect x="1174.5" y="3825" width="8" height="17"/>
<rect x="1384.0" y="3825" width="8.9" height="33.9"/>
<rect x="1594.5" y="3825" width="8" height="17"/>
<rect x="1804.0" y="3825" width="8.9" height="33.9"/>
<rect x="2014.5" y="3825" width="8" height="17"/>
<rect x="2224.1" y="3825" width="8.9" height="33.9"/>
</g>
<clipPath id="clipB"><rect x="339" y="2136" width="2099" height="1690"/></clipPath>
<g clip-path="url(#clipB)" fill="none" stroke-linejoin="round" stroke-linecap="round">
<path d="M334.0,3067.0 C335.4,3066.7 338.7,3066.1 342.1,3065.4 C345.5,3064.7 348.2,3063.7 354.2,3063.0 C360.3,3062.2 367.0,3061.6 378.4,3061.0 C389.9,3060.4 404.0,3059.6 422.8,3059.3 C441.6,3059.1 468.5,3059.3 491.4,3059.3 C514.3,3059.3 546.5,3058.7 560.0,3059.3 C573.4,3060.0 568.1,3061.4 572.1,3063.0 C576.1,3064.6 580.5,3067.4 584.2,3069.0 C587.9,3070.7 590.6,3072.3 594.3,3073.1 C598.0,3073.8 602.7,3073.6 606.4,3073.5 C610.1,3073.3 613.1,3073.5 616.5,3072.3 C619.8,3071.0 623.2,3067.3 626.6,3065.8 C629.9,3064.3 633.3,3063.7 636.7,3063.4 C640.0,3063.1 643.7,3063.2 646.7,3064.2 C649.8,3065.1 652.1,3067.6 654.8,3069.0 C657.5,3070.5 660.5,3072.7 662.9,3073.1 C665.2,3073.4 666.6,3072.9 668.9,3071.0 C671.3,3069.2 674.0,3065.5 677.0,3062.2 C680.0,3058.8 684.1,3055.4 687.1,3050.9 C690.1,3046.3 692.5,3039.2 695.2,3034.7 C697.9,3030.2 700.5,3026.7 703.2,3023.8 C705.9,3021.0 708.6,3019.0 711.3,3017.8 C714.0,3016.6 716.7,3016.3 719.4,3016.6 C722.1,3016.8 724.4,3017.6 727.4,3019.4 C730.5,3021.2 733.8,3024.4 737.5,3027.5 C741.2,3030.5 745.3,3034.5 749.6,3037.6 C754.0,3040.7 758.4,3043.8 763.8,3046.0 C769.1,3048.3 773.5,3049.1 781.9,3050.9 C790.3,3052.6 802.1,3055.5 814.2,3056.5 C826.3,3057.5 842.4,3056.8 854.5,3056.9 C866.7,3057.1 877.4,3057.0 886.8,3057.3 C896.2,3057.7 901.1,3058.3 911.0,3058.9 C921.0,3059.6 934.4,3060.7 946.3,3061.4 C958.2,3062.1 963.5,3062.9 982.6,3063.2 C1001.8,3063.5 1039.1,3063.8 1061.3,3063.2 C1083.5,3062.6 1093.6,3060.2 1115.8,3059.5 C1138.0,3058.9 1170.3,3058.9 1194.5,3059.5 C1218.7,3060.2 1238.9,3061.0 1261.0,3063.2 C1283.2,3065.4 1307.4,3070.5 1327.6,3072.9 C1347.8,3075.2 1363.9,3075.8 1382.1,3077.1 C1400.2,3078.4 1420.4,3079.9 1436.6,3080.7 C1452.7,3081.5 1465.8,3082.0 1478.9,3081.9 C1492.0,3081.8 1500.1,3080.7 1515.2,3080.1 C1530.4,3079.5 1556.6,3078.8 1569.7,3078.3 C1582.8,3077.8 1587.4,3077.5 1593.9,3077.1 C1600.5,3076.7 1603.5,3075.7 1609.1,3075.9 C1614.6,3076.1 1620.7,3077.8 1627.2,3078.3 C1633.8,3078.8 1639.8,3078.9 1648.4,3078.9 C1657.0,3078.9 1670.6,3077.8 1678.7,3078.3 C1686.7,3078.8 1691.3,3080.8 1696.8,3081.9 C1702.4,3083.1 1706.9,3085.1 1712.0,3085.0 C1717.0,3084.9 1720.5,3082.5 1727.1,3081.3 C1733.6,3080.1 1743.2,3078.4 1751.3,3077.7 C1759.4,3077.0 1767.5,3078.3 1775.5,3077.1 C1783.5,3075.9 1791.1,3072.0 1799.4,3070.3 C1807.6,3068.6 1817.2,3067.9 1825.1,3066.7 C1832.9,3065.5 1839.9,3063.1 1846.7,3063.1 C1853.4,3063.1 1858.7,3065.8 1865.6,3066.7 C1872.5,3067.6 1880.6,3066.7 1888.1,3068.5 C1895.6,3070.3 1903.9,3075.4 1910.7,3077.5 C1917.4,3079.6 1921.9,3079.4 1928.7,3081.1 C1935.4,3082.8 1943.7,3085.2 1951.2,3087.9 C1958.7,3090.5 1967.0,3094.4 1973.7,3096.9 C1980.5,3099.4 1986.9,3100.9 1991.8,3102.7 C1996.6,3104.6 1999.3,3105.4 2003.0,3108.1 C2006.8,3110.9 2010.6,3116.6 2014.3,3119.4 C2018.0,3122.2 2023.3,3123.9 2025.1,3124.8" stroke="#505050" stroke-width="7"/>
<path d="M2025.3,3124.0 C2025.5,3127.2 2024.2,3139.6 2026.5,3143.3 C2028.8,3147.0 2035.1,3144.4 2039.1,3146.4 C2043.1,3148.5 2047.3,3151.8 2050.3,3155.4 C2053.4,3159.1 2055.0,3163.5 2057.6,3168.5 C2060.2,3173.5 2063.2,3179.4 2066.0,3185.3 C2068.8,3191.2 2071.6,3197.6 2074.4,3203.8 C2077.2,3210.0 2080.0,3215.6 2082.8,3222.3 C2085.6,3229.0 2088.4,3237.1 2091.2,3244.1 C2094.0,3251.2 2096.8,3257.9 2099.6,3264.3 C2102.4,3270.8 2105.2,3276.9 2108.0,3282.8 C2110.8,3288.7 2113.6,3294.6 2116.4,3299.6 C2119.2,3304.7 2122.0,3309.4 2124.8,3313.1 C2127.7,3316.7 2130.5,3319.4 2133.3,3321.5 C2136.1,3323.6 2138.9,3325.0 2141.7,3325.9 C2144.5,3326.7 2147.3,3326.5 2150.1,3326.5 C2152.9,3326.5 2155.7,3327.0 2158.5,3325.9 C2161.3,3324.7 2164.1,3322.5 2166.9,3319.8 C2169.7,3317.1 2172.5,3313.9 2175.3,3309.7 C2178.1,3305.5 2180.9,3300.2 2183.7,3294.6 C2186.5,3289.0 2189.3,3282.5 2192.1,3276.1 C2194.9,3269.6 2197.7,3262.6 2200.5,3255.9 C2203.3,3249.2 2206.1,3241.9 2208.9,3235.7 C2211.7,3229.6 2214.8,3222.9 2217.3,3218.9 C2219.8,3215.0 2221.5,3213.7 2224.0,3212.2 C2226.6,3210.7 2229.6,3210.0 2232.4,3209.9 C2235.2,3209.7 2238.1,3210.2 2240.9,3211.5 C2243.7,3212.9 2246.5,3215.7 2249.3,3217.9 C2252.1,3220.1 2254.6,3222.5 2257.7,3224.6 C2260.7,3226.8 2263.6,3229.1 2267.8,3230.7 C2272.0,3232.3 2277.6,3232.8 2282.9,3234.1 C2288.2,3235.3 2294.7,3236.4 2299.7,3238.1 C2304.7,3239.8 2309.2,3242.7 2313.1,3244.1 C2317.1,3245.6 2319.9,3246.8 2323.2,3246.8 C2326.6,3246.8 2330.0,3246.0 2333.3,3244.1 C2336.7,3242.3 2340.0,3239.4 2343.4,3235.7 C2346.8,3232.1 2350.1,3227.3 2353.5,3222.3 C2356.9,3217.2 2359.9,3211.6 2363.6,3205.5 C2367.2,3199.3 2371.4,3191.5 2375.4,3185.3 C2379.3,3179.1 2384.2,3172.7 2387.1,3168.5 C2390.0,3164.3 2390.0,3163.6 2392.8,3160.0 C2395.6,3156.3 2399.9,3149.3 2404.0,3146.4 C2408.2,3143.6 2413.4,3143.2 2417.6,3142.8 C2421.7,3142.5 2425.8,3143.8 2428.8,3144.2 C2431.8,3144.6 2433.3,3144.8 2435.6,3145.1 C2437.8,3145.4 2441.2,3145.8 2442.3,3146.0" stroke="#505050" stroke-width="7"/>
<path d="M334.0,3283.9 C335.4,3284.0 336.1,3284.0 342.1,3284.3 C348.2,3284.7 360.9,3285.5 370.3,3285.9 C379.8,3286.4 385.1,3287.0 398.6,3287.2 C412.0,3287.4 430.2,3287.2 451.0,3287.2 C471.9,3287.2 508.9,3287.3 523.7,3287.2 C538.5,3287.0 535.4,3286.3 539.8,3286.3 C544.2,3286.4 546.9,3286.5 549.9,3287.6 C552.9,3288.6 555.6,3290.5 558.0,3292.8 C560.3,3295.2 562.0,3298.0 564.0,3301.7 C566.0,3305.4 568.1,3310.4 570.1,3315.0 C572.1,3319.6 574.1,3323.4 576.1,3329.1 C578.2,3334.8 580.2,3342.6 582.2,3349.3 C584.2,3356.0 586.2,3362.7 588.2,3369.5 C590.3,3376.2 592.3,3383.3 594.3,3389.6 C596.3,3396.0 598.3,3402.4 600.3,3407.8 C602.4,3413.2 604.4,3418.1 606.4,3421.9 C608.4,3425.8 610.1,3428.4 612.4,3430.8 C614.8,3433.2 617.8,3434.8 620.5,3436.0 C623.2,3437.3 626.2,3437.9 628.6,3438.1 C630.9,3438.3 632.6,3437.9 634.6,3437.3 C636.7,3436.6 638.5,3434.8 640.7,3434.0 C642.9,3433.2 645.9,3432.4 648.0,3432.4 C650.0,3432.4 651.0,3433.0 652.8,3434.0 C654.6,3435.0 656.8,3438.1 658.9,3438.5 C660.9,3438.8 662.5,3437.3 664.9,3436.0 C667.3,3434.8 670.6,3433.2 673.0,3430.8 C675.3,3428.4 677.0,3425.8 679.0,3421.9 C681.0,3418.1 683.1,3413.5 685.1,3407.8 C687.1,3402.1 689.1,3395.0 691.1,3387.6 C693.1,3380.2 695.2,3371.1 697.2,3363.4 C699.2,3355.7 701.2,3348.3 703.2,3341.2 C705.3,3334.2 707.3,3327.0 709.3,3321.0 C711.3,3315.1 713.0,3310.4 715.3,3305.7 C717.7,3301.0 720.7,3296.0 723.4,3292.8 C726.1,3289.6 728.8,3288.0 731.5,3286.8 C734.2,3285.5 734.8,3285.5 739.5,3285.1 C744.3,3284.8 754.3,3285.5 759.7,3284.7 C765.1,3284.0 768.1,3282.2 771.8,3280.7 C775.5,3279.2 778.2,3276.7 781.9,3275.5 C785.6,3274.2 789.3,3273.8 794.0,3273.0 C798.7,3272.2 804.8,3271.2 810.2,3270.6 C815.5,3270.0 820.6,3270.1 826.3,3269.4 C832.0,3268.7 839.1,3267.9 844.5,3266.6 C849.8,3265.3 852.9,3263.3 858.6,3261.7 C864.3,3260.1 872.7,3258.0 878.8,3256.9 C884.8,3255.7 888.8,3255.4 894.9,3254.9 C900.9,3254.3 905.8,3254.0 915.1,3253.7 C924.3,3253.3 937.7,3253.2 950.3,3252.9 C963.0,3252.5 978.6,3252.1 990.7,3251.6 C1002.8,3251.2 1009.5,3250.3 1023.0,3250.0 C1036.4,3249.8 1055.3,3250.0 1071.4,3250.0 C1087.5,3250.0 1107.7,3249.8 1119.8,3250.0 C1131.9,3250.3 1134.6,3251.1 1144.0,3251.6 C1153.4,3252.2 1164.9,3252.5 1176.3,3253.3 C1187.7,3254.1 1203.2,3255.1 1212.6,3256.5 C1222.0,3257.8 1224.7,3259.9 1232.8,3261.3 C1240.9,3262.8 1251.6,3264.2 1261.0,3265.4 C1270.5,3266.6 1280.5,3267.4 1289.3,3268.6 C1298.0,3269.8 1306.8,3271.6 1313.5,3272.6 C1320.2,3273.7 1324.9,3273.8 1329.6,3275.1 C1334.3,3276.3 1336.4,3278.8 1341.7,3279.9 C1347.1,3281.0 1355.2,3280.5 1361.9,3281.5 C1368.6,3282.5 1376.0,3284.3 1382.1,3285.9 C1388.1,3287.6 1392.2,3290.6 1398.2,3291.6 C1404.3,3292.6 1412.4,3291.6 1418.4,3292.0 C1424.5,3292.4 1428.5,3292.8 1434.5,3294.0 C1440.6,3295.2 1448.7,3298.1 1454.7,3299.3 C1460.8,3300.4 1465.5,3299.8 1470.9,3300.9 C1476.2,3302.0 1482.0,3304.1 1487.0,3305.7 C1492.0,3307.3 1496.3,3309.6 1501.1,3310.3 C1505.9,3311.0 1510.3,3309.6 1515.9,3309.9 C1521.4,3310.2 1528.8,3310.8 1534.4,3312.1 C1539.9,3313.4 1543.6,3316.6 1549.2,3317.7 C1554.7,3318.7 1561.5,3318.0 1567.7,3318.4 C1573.8,3318.9 1580.9,3319.4 1586.2,3320.3 C1591.4,3321.2 1594.2,3323.2 1599.1,3324.0 C1604.0,3324.7 1610.5,3324.6 1615.8,3324.7 C1621.0,3324.8 1625.6,3323.6 1630.6,3324.7 C1635.5,3325.8 1640.4,3329.0 1645.3,3331.4 C1650.3,3333.7 1655.2,3337.8 1660.1,3338.8 C1665.1,3339.7 1669.4,3337.4 1674.9,3336.9 C1680.5,3336.5 1687.3,3335.9 1693.4,3336.2 C1699.6,3336.5 1706.4,3337.5 1711.9,3338.8 C1717.5,3340.0 1721.8,3342.2 1726.7,3343.6 C1731.6,3345.0 1737.2,3346.7 1741.5,3347.3 C1745.8,3347.8 1749.2,3347.2 1752.6,3346.9 C1756.0,3346.6 1758.5,3345.1 1761.9,3345.4 C1765.2,3345.8 1768.9,3346.8 1773.0,3349.1 C1777.0,3351.4 1781.5,3356.3 1785.9,3359.1 C1790.3,3361.9 1794.9,3364.7 1799.2,3365.8 C1803.5,3366.8 1807.8,3365.9 1811.8,3365.4 C1815.7,3364.9 1819.2,3363.2 1822.9,3362.8 C1826.6,3362.4 1830.3,3361.9 1834.0,3362.8 C1837.7,3363.7 1841.4,3366.8 1845.1,3368.4 C1848.8,3369.9 1853.1,3371.3 1856.2,3372.1 C1859.3,3372.8 1861.1,3373.1 1863.6,3372.8 C1866.0,3372.5 1868.5,3370.8 1871.0,3370.2 C1873.4,3369.6 1875.9,3368.5 1878.4,3369.1 C1880.8,3369.7 1883.3,3371.4 1885.8,3373.9 C1888.2,3376.4 1890.7,3380.2 1893.2,3383.9 C1895.6,3387.6 1898.1,3391.6 1900.6,3396.1 C1903.0,3400.6 1905.5,3406.8 1908.0,3410.9 C1910.4,3415.0 1912.9,3418.7 1915.4,3420.9 C1917.8,3423.0 1920.0,3424.0 1922.8,3423.8 C1925.5,3423.7 1928.9,3422.0 1932.0,3420.1 C1935.1,3418.3 1938.2,3414.3 1941.2,3412.7 C1944.3,3411.2 1947.4,3410.6 1950.5,3410.9 C1953.6,3411.2 1956.7,3412.6 1959.7,3414.6 C1962.8,3416.6 1965.9,3420.1 1969.0,3423.1 C1972.1,3426.1 1975.1,3430.2 1978.2,3432.3 C1981.3,3434.5 1984.4,3435.3 1987.5,3436.0 C1990.6,3436.8 1993.6,3437.1 1996.7,3436.8 C1999.8,3436.5 2002.9,3435.0 2006.0,3434.2 C2009.1,3433.4 2012.4,3431.2 2015.2,3432.0 C2018.0,3432.7 2021.0,3437.0 2022.6,3438.6 C2024.2,3440.3 2023.0,3439.0 2024.6,3441.9 C2026.3,3444.8 2029.7,3451.4 2032.4,3456.0 C2035.1,3460.6 2038.0,3465.2 2040.8,3469.4 C2043.6,3473.6 2046.4,3478.8 2049.2,3481.2 C2052.0,3483.6 2054.8,3483.6 2057.6,3483.9 C2060.4,3484.2 2063.2,3482.2 2066.0,3482.9 C2068.8,3483.6 2071.6,3485.7 2074.4,3487.9 C2077.2,3490.2 2080.3,3493.3 2082.8,3496.3 C2085.3,3499.4 2087.5,3501.9 2089.5,3506.4 C2091.6,3510.9 2093.3,3517.9 2095.3,3523.2 C2097.2,3528.6 2099.3,3533.3 2101.3,3538.4 C2103.3,3543.4 2105.4,3548.7 2107.4,3553.5 C2109.3,3558.3 2111.3,3563.3 2113.1,3566.9 C2114.9,3570.6 2116.2,3573.2 2118.1,3575.4 C2120.1,3577.5 2122.3,3579.2 2124.8,3579.7 C2127.4,3580.3 2130.5,3579.4 2133.3,3578.7 C2136.1,3578.0 2138.9,3577.0 2141.7,3575.4 C2144.5,3573.7 2147.3,3571.6 2150.1,3568.6 C2152.9,3565.7 2155.7,3560.3 2158.5,3557.5 C2161.3,3554.7 2164.1,3554.2 2166.9,3551.8 C2169.7,3549.5 2172.5,3546.8 2175.3,3543.4 C2178.1,3540.0 2180.9,3535.8 2183.7,3531.6 C2186.5,3527.4 2189.3,3523.0 2192.1,3518.2 C2194.9,3513.4 2197.7,3507.3 2200.5,3503.1 C2203.3,3498.9 2206.1,3495.8 2208.9,3493.0 C2211.7,3490.2 2214.5,3487.8 2217.3,3486.2 C2220.1,3484.7 2222.9,3484.1 2225.7,3483.9 C2228.5,3483.7 2231.3,3483.7 2234.1,3485.2 C2236.9,3486.8 2239.7,3489.7 2242.5,3493.0 C2245.3,3496.2 2248.1,3500.5 2250.9,3504.7 C2253.7,3508.9 2256.5,3513.4 2259.3,3518.2 C2262.1,3523.0 2264.7,3528.6 2267.8,3533.3 C2270.8,3538.1 2274.2,3542.8 2277.8,3546.8 C2281.5,3550.7 2285.4,3553.8 2289.6,3556.9 C2293.8,3559.9 2298.9,3562.2 2303.1,3565.3 C2307.3,3568.3 2310.9,3571.7 2314.8,3575.4 C2318.8,3579.0 2323.0,3583.9 2326.6,3587.1 C2330.2,3590.3 2333.9,3592.8 2336.7,3594.5 C2339.5,3596.2 2341.2,3597.4 2343.4,3597.2 C2345.7,3597.0 2347.6,3595.4 2350.1,3593.2 C2352.7,3590.9 2355.7,3587.6 2358.5,3583.8 C2361.3,3579.9 2363.9,3575.1 2366.9,3570.3 C2370.0,3565.5 2373.7,3559.7 2377.0,3555.2 C2380.4,3550.7 2383.8,3547.3 2387.1,3543.4 C2390.5,3539.5 2393.8,3535.8 2397.2,3531.6 C2400.6,3527.4 2403.9,3522.7 2407.3,3518.2 C2410.7,3513.7 2414.3,3510.1 2417.4,3504.7 C2420.5,3499.4 2423.0,3492.4 2425.8,3486.2 C2428.6,3480.1 2432.5,3471.6 2434.2,3467.8 C2435.9,3463.9 2435.9,3464.1 2436.2,3463.4" stroke="#f04040" stroke-width="7"/>
</g>
<rect x="1799.2" y="3031" width="225.9" height="456.7" fill="#fff" fill-opacity="0.5"/>
<g stroke="#777" fill="none">
<line x1="1798.6" y1="3031" x2="2027" y2="3031" stroke-width="4" stroke-dasharray="9.4 14.88"/>
<line x1="1798.2" y1="3487.7" x2="2027" y2="3487.7" stroke-width="4" stroke-dasharray="9.4 14.9"/>
<line x1="1799.4" y1="3047" x2="1799.4" y2="3486" stroke-width="3.2" stroke-dasharray="9.4 15.03"/>
<line x1="2025.1" y1="3047" x2="2025.1" y2="3486" stroke-width="3.2" stroke-dasharray="9.4 15.03"/>
</g>
<text transform="translate(548.50,3937.55) scale(0.9858,1)" font-size="74.81" text-anchor="middle">2400</text>
<text transform="translate(968.50,3937.55) scale(0.9858,1)" font-size="74.81" text-anchor="middle">2200</text>
<text transform="translate(1388.50,3937.55) scale(0.9858,1)" font-size="74.81" text-anchor="middle">2000</text>
<text transform="translate(1808.50,3937.55) scale(0.9858,1)" font-size="74.81" text-anchor="middle">1800</text>
<text transform="translate(2228.50,3937.55) scale(0.9858,1)" font-size="74.81" text-anchor="middle">1600</text>
<text class="b"><tspan x="979.41" y="4061.00" font-size="107.30" textLength="617.88" lengthAdjust="spacingAndGlyphs">Wavenumber</tspan><tspan x="1590.20" y="4060.97" font-size="102.26" textLength="69.90" lengthAdjust="spacingAndGlyphs"> (</tspan><tspan x="1657.41" y="4060.79" font-size="111.46" textLength="131.09" lengthAdjust="spacingAndGlyphs">cm</tspan><tspan x="1783.46" y="4024.20" font-size="74.39" textLength="65.97" lengthAdjust="spacingAndGlyphs">−1</tspan><tspan x="1848.36" y="4060.97" font-size="102.26" textLength="40.29" lengthAdjust="spacingAndGlyphs">)</tspan></text>
<text class="b" transform="rotate(-90)"><tspan x="-3394.48" y="211.60" font-size="105.00" textLength="661.76" lengthAdjust="spacingAndGlyphs">Transmittance</tspan><tspan x="-2736.50" y="212.50" font-size="100.72" textLength="69.90" lengthAdjust="spacingAndGlyphs"> (</tspan><tspan x="-2669.91" y="211.60" font-size="105.00" textLength="162.96" lengthAdjust="spacingAndGlyphs">a.u.</tspan><tspan x="-2508.69" y="212.50" font-size="100.72" textLength="38.74" lengthAdjust="spacingAndGlyphs">)</tspan></text>
<text transform="translate(77.02,2203.54) scale(1.0431,1)" font-size="83.09">(b)</text>
<rect x="462.6" y="2239.6" width="519" height="275" fill="#fff" stroke="#000" stroke-width="2.7"/>
<path d="M473.7,2281.3 H612" fill="none" stroke="#505050" stroke-width="7"/><circle cx="473.7" cy="2281.3" r="3.5" fill="#505050"/>
<path d="M473.7,2380.6 H612" fill="none" stroke="#f04040" stroke-width="6.8"/><circle cx="473.7" cy="2380.6" r="3.4" fill="#f04040"/>
<text transform="translate(639.52,2307.82) scale(1.0047,1)" font-size="78.81">PVA</text>
<text transform="translate(637.76,2409.41) scale(0.9414,1)" font-size="86.05">CFG/PVA</text>
<text transform="translate(1628.37,3617.10) scale(0.9773,1)" font-size="71.67">1744</text>
<text transform="translate(1952.70,3671.69) scale(1.0030,1)" font-size="70.67">1718</text>
<line x1="1748.6" y1="3553.7" x2="1871.8" y2="3451.4" stroke="#000" stroke-width="2.2"/><polygon points="1903.3,3425.2 1877.6,3461.5 1862.9,3443.8" fill="#000"/>
<line x1="2055.0" y1="3608.5" x2="2004.0" y2="3532.1" stroke="#000" stroke-width="2.2"/><polygon points="1981.3,3498.0 2014.7,3527.4 1995.6,3540.2" fill="#000"/>
<line x1="1831.6" y1="2940.2" x2="1754.5" y2="2823.9" stroke="#000" stroke-width="2.8"/><polygon points="1732.4,2790.6 1764.8,2819.5 1746.4,2831.7" fill="#000"/>
<g id="inset">
<g fill="none" stroke-linejoin="round" stroke-linecap="butt">
<path d="M1192.8,2289.6 L1208.9,2289.6 L1215.7,2284.2 L1231.8,2284.2 L1237.2,2279.4 L1242.6,2279.4 L1249.3,2274.0 L1260.1,2274.0 L1265.4,2269.1 L1282.9,2269.1 L1288.3,2264.0 L1304.4,2264.0 L1310.4,2269.4 L1328.1,2269.4 L1333.5,2274.0 L1355.0,2274.0 L1360.4,2279.1 L1389.2,2279.1 L1394.6,2284.2 L1412.0,2284.2 L1418.8,2290.1 L1426.9,2299.5 L1432.8,2304.1 L1440.3,2304.1 L1449.8,2315.1 L1457.0,2315.1 L1467.2,2324.3 L1480.7,2324.3 L1490.1,2332.3 L1499.0,2339.9 L1508.9,2339.1 L1518.4,2341.2 L1523.7,2344.5 L1529.1,2344.5 L1539.9,2355.2 L1546.6,2355.2 L1557.4,2364.6 L1562.7,2364.6 L1568.9,2370.0 L1574.8,2370.0 L1580.8,2375.4 L1585.6,2375.4 L1591.0,2380.2 L1596.4,2380.2 L1607.1,2389.6 L1623.3,2405.8 L1630.8,2405.8 L1638.1,2412.5 L1646.1,2421.1 L1657.7,2421.1 L1666.3,2428.6 L1674.4,2436.2 L1686.5,2436.2 L1695.9,2445.6 L1702.6,2445.6 L1710.7,2452.9 L1717.4,2463.6 L1724.1,2475.7 L1729.5,2487.8 L1733.0,2499.9 L1734.9,2503.8 L1736.2,2512.4 L1744.3,2519.4 L1753.5,2528.0" stroke="#505050" stroke-width="2.6"/>
<path d="M1192.8,2373.5 L1208.9,2373.5 L1215.1,2368.7 L1220.5,2368.7 L1226.4,2363.3 L1232.3,2362.7 L1237.7,2358.2 L1265.4,2358.2 L1274.8,2368.1 L1284.3,2374.8 L1293.1,2383.7 L1299.1,2383.7 L1309.8,2392.9 L1315.2,2392.9 L1327.3,2404.4 L1348.8,2404.4 L1355.5,2398.5 L1360.4,2398.5 L1371.7,2388.3 L1382.4,2388.3 L1389.2,2392.3 L1395.9,2399.6 L1401.3,2409.8 L1406.7,2421.9 L1412.0,2430.0 L1417.4,2439.4 L1422.8,2454.2 L1428.2,2469.0 L1433.6,2482.4 L1439.5,2499.9 L1440.3,2501.1 L1444.4,2517.2 L1448.4,2536.1 L1453.8,2552.2 L1459.2,2568.4 L1464.6,2584.5 L1469.4,2599.3 L1474.0,2610.1 L1478.0,2616.8 L1483.4,2622.7 L1490.1,2631.6 L1507.6,2631.6 L1512.4,2626.2 L1517.8,2626.2 L1523.7,2616.8 L1531.8,2608.2 L1539.9,2600.6 L1545.3,2589.9 L1551.2,2580.5 L1556.6,2575.9 L1562.7,2575.9 L1568.1,2570.2 L1574.3,2576.4 L1591.0,2576.4 L1599.1,2581.8 L1607.1,2596.6 L1615.2,2603.3 L1623.3,2619.5 L1631.3,2634.3 L1636.7,2643.7 L1642.1,2657.1 L1648.8,2670.6 L1654.2,2678.6 L1658.2,2682.7 L1674.4,2682.7 L1679.8,2687.3 L1698.0,2687.3 L1703.4,2682.7 L1712.6,2682.7 L1718.8,2676.5 L1726.8,2676.5 L1734.9,2667.1 L1748.4,2667.1 L1753.5,2676.5" stroke="#f04040" stroke-width="2.6"/>
</g>
<rect x="1192.8" y="2231.7" width="560.7" height="504.3" fill="none" stroke="#000" stroke-width="3"/>
<g stroke="#000" stroke-width="2.7">
<line x1="1183.4" y1="2231.7" x2="1192.8" y2="2231.7"/>
<line x1="1188" y1="2282.1" x2="1192.8" y2="2282.1"/>
<line x1="1192.8" y1="2736.0" x2="1192.8" y2="2744.8"/>
<line x1="1248.9" y1="2736.0" x2="1248.9" y2="2740.8"/>
<line x1="1183.4" y1="2332.6" x2="1192.8" y2="2332.6"/>
<line x1="1188" y1="2383.0" x2="1192.8" y2="2383.0"/>
<line x1="1304.9" y1="2736.0" x2="1304.9" y2="2744.8"/>
<line x1="1361.0" y1="2736.0" x2="1361.0" y2="2740.8"/>
<line x1="1183.4" y1="2433.4" x2="1192.8" y2="2433.4"/>
<line x1="1188" y1="2483.8" x2="1192.8" y2="2483.8"/>
<line x1="1417.1" y1="2736.0" x2="1417.1" y2="2744.8"/>
<line x1="1473.1" y1="2736.0" x2="1473.1" y2="2740.8"/>
<line x1="1183.4" y1="2534.3" x2="1192.8" y2="2534.3"/>
<line x1="1188" y1="2584.7" x2="1192.8" y2="2584.7"/>
<line x1="1529.2" y1="2736.0" x2="1529.2" y2="2744.8"/>
<line x1="1585.3" y1="2736.0" x2="1585.3" y2="2740.8"/>
<line x1="1183.4" y1="2635.1" x2="1192.8" y2="2635.1"/>
<line x1="1188" y1="2685.6" x2="1192.8" y2="2685.6"/>
<line x1="1641.4" y1="2736.0" x2="1641.4" y2="2744.8"/>
<line x1="1697.4" y1="2736.0" x2="1697.4" y2="2740.8"/>
<line x1="1183.4" y1="2736.0" x2="1192.8" y2="2736.0"/>
<line x1="1753.5" y1="2736.0" x2="1753.5" y2="2744.8"/>
</g>
<text transform="translate(1192.80,2766.40) scale(1.0800,1)" font-size="17.04" text-anchor="middle">1800</text>
<text transform="translate(1304.94,2766.40) scale(1.0800,1)" font-size="17.04" text-anchor="middle">1780</text>
<text transform="translate(1417.08,2766.40) scale(1.0800,1)" font-size="17.04" text-anchor="middle">1760</text>
<text transform="translate(1529.22,2766.40) scale(1.0800,1)" font-size="17.04" text-anchor="middle">1740</text>
<text transform="translate(1641.36,2766.40) scale(1.0800,1)" font-size="17.04" text-anchor="middle">1720</text>
<text transform="translate(1753.50,2766.40) scale(1.0800,1)" font-size="17.04" text-anchor="middle">1700</text>
<text class="b"><tspan x="1402.30" y="2791.30" font-size="26.60" textLength="157.19" lengthAdjust="spacingAndGlyphs">Wavenumber</tspan><tspan x="1562.29" y="2790.27" font-size="26.01" textLength="18.55" lengthAdjust="spacingAndGlyphs"> (</tspan><tspan x="1578.84" y="2791.33" font-size="27.08" textLength="35.04" lengthAdjust="spacingAndGlyphs">cm</tspan><tspan x="1614.51" y="2782.20" font-size="16.52" textLength="14.08" lengthAdjust="spacingAndGlyphs">−1</tspan><tspan x="1629.45" y="2790.27" font-size="26.01" textLength="11.75" lengthAdjust="spacingAndGlyphs">)</tspan></text>
<text class="b" transform="rotate(-90)"><tspan x="-2603.71" y="1152.00" font-size="28.00" textLength="172.64" lengthAdjust="spacingAndGlyphs">Transmittance</tspan><tspan x="-2431.67" y="1152.36" font-size="26.56" textLength="17.87" lengthAdjust="spacingAndGlyphs"> (</tspan><tspan x="-2413.99" y="1152.00" font-size="28.00" textLength="42.45" lengthAdjust="spacingAndGlyphs">a.u.</tspan><tspan x="-2371.62" y="1152.36" font-size="26.56" textLength="9.43" lengthAdjust="spacingAndGlyphs">)</tspan></text>
<text transform="translate(1428.66,2678.10) scale(0.9266,1)" font-size="18.94">1744</text>
<text transform="translate(1659.83,2712.91) scale(1.0282,1)" font-size="18.52">1718</text>
<line x1="1456.0" y1="2663.9" x2="1480.2" y2="2640.5" stroke="#000" stroke-width="1"/><polygon points="1485.6,2635.3 1480.7,2643.9 1476.9,2639.9" fill="#000"/>
</g>
</g>
</svg>
</body>
</html>
